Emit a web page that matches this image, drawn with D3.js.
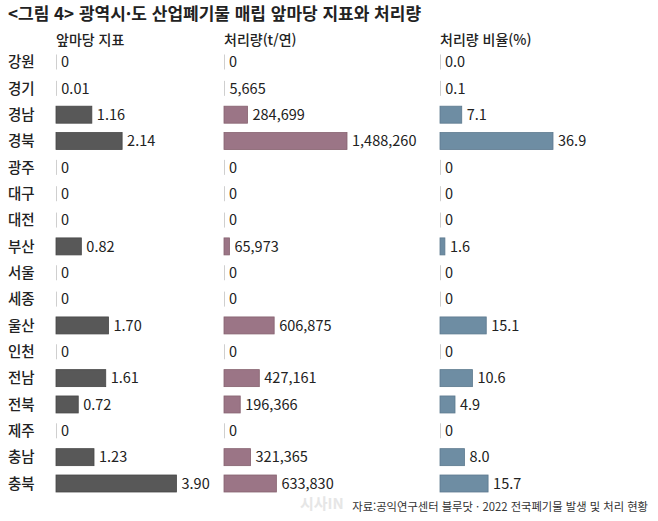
<!DOCTYPE html>
<html lang="ko">
<head>
<meta charset="UTF-8">
<title>광역시·도 산업폐기물 매립 앞마당 지표와 처리량</title>
<script src="https://cdn.jsdelivr.net/npm/d3@7"></script>
<style>
  body { margin: 0; background: #fff; }
  svg text { font-family: "Noto Sans CJK KR", "Noto Sans", sans-serif; fill: #222; }
  .title { font-size: 17px; font-weight: 700; }
  .head { font-size: 14px; font-weight: 500; }
  .region { font-size: 14.5px; font-weight: 500; }
  .val { font-size: 14.5px; }
  .src { font-size: 11.3px; fill: #333; }
  .zero { stroke: #cfcfcf; stroke-width: 1; }
</style>
</head>
<body>
<div id="chart"></div>
<script>
var regions = ['강원','경기','경남','경북','광주','대구','대전','부산','서울','세종','울산','인천','전남','전북','제주','충남','충북'];
var indexValues = [0, 0.01, 1.16, 2.14, 0, 0, 0, 0.82, 0, 0, 1.70, 0, 1.61, 0.72, 0, 1.23, 3.90];
var amountValues = [0, 5665, 284699, 1488260, 0, 0, 0, 65973, 0, 0, 606875, 0, 427161, 196366, 0, 321365, 633830];
var ratioValues = [0.0, 0.1, 7.1, 36.9, 0, 0, 0, 1.6, 0, 0, 15.1, 0, 10.6, 4.9, 0, 8.0, 15.7];
var ratioLabels = ['0.0','0.1','7.1','36.9','0','0','0','1.6','0','0','15.1','0','10.6','4.9','0','8.0','15.7'];

var width = 658, height = 521, barH = 17;

var svg = d3.select('#chart').append('svg')
    .attr('width', width)
    .attr('height', height);

var y = d3.scalePoint().domain(regions).range([62, 483.5]);

var comma = d3.format(',');

var panels = [
    {head: '앞마당 지표', values: indexValues, color: '#585858', stroke: '#474747',
     x: d3.scaleLinear().domain([0, 3.90]).range([56, 176.5]),
     label: function(v, i) { return v === 0 ? '0' : v.toFixed(2); }},
    {head: '처리량(t/연)', values: amountValues, color: '#9b7586', stroke: '#86626f',
     x: d3.scaleLinear().domain([0, 1488260]).range([224, 347]),
     label: function(v, i) { return comma(v); }},
    {head: '처리량 비율(%)', values: ratioValues, color: '#6e8da3', stroke: '#5c798e',
     x: d3.scaleLinear().domain([0, 36.9]).range([440, 553]),
     label: function(v, i) { return ratioLabels[i]; }}
];

svg.append('text')
    .attr('class', 'title')
    .attr('x', 8).attr('y', 20)
    .text('<그림 4> 광역시·도 산업폐기물 매립 앞마당 지표와 처리량');

// faint watermark
svg.append('text')
    .attr('x', 300).attr('y', 509)
    .style('font-size', '15px').style('font-weight', 700)
    .style('fill', '#e6e6e6')
    .text('시사IN');

svg.selectAll('text.region')
    .data(regions)
    .enter().append('text')
    .attr('class', 'region')
    .attr('x', 8)
    .attr('y', d => y(d))
    .attr('dy', '0.36em')
    .text(d => d);

panels.forEach(function(p) {
    var g = svg.append('g');
    var x0 = p.x(0);

    g.append('text')
        .attr('class', 'head')
        .attr('x', x0)
        .attr('y', 40)
        .attr('dy', '0.36em')
        .text(p.head);

    var rows = g.selectAll('g.row')
        .data(p.values)
        .enter().append('g')
        .attr('class', 'row')
        .attr('transform', (d, i) => 'translate(0,' + y(regions[i]) + ')');

    rows.append('line')
        .attr('class', 'zero')
        .attr('x1', x0 + 0.5).attr('x2', x0 + 0.5)
        .attr('y1', -barH / 2 + 1)
        .attr('y2', barH / 2 - 1);

    rows.filter(d => p.x(d) - x0 >= 2)
        .append('rect')
        .attr('x', x0)
        .attr('y', -barH / 2)
        .attr('width', d => p.x(d) - x0)
        .attr('height', barH)
        .attr('fill', p.color)
        .attr('stroke', p.stroke)
        .attr('stroke-width', 0.8);

    rows.append('text')
        .attr('class', 'val')
        .attr('x', d => Math.max(p.x(d), x0) + 5)
        .attr('dy', '0.36em')
        .text((d, i) => p.label(d, i));
});

svg.append('text')
    .attr('class', 'src')
    .attr('x', 648).attr('y', 511)
    .attr('text-anchor', 'end')
    .text('자료:공익연구센터 블루닷 · 2022 전국폐기물 발생 및 처리 현황');
</script>
</body>
</html>
